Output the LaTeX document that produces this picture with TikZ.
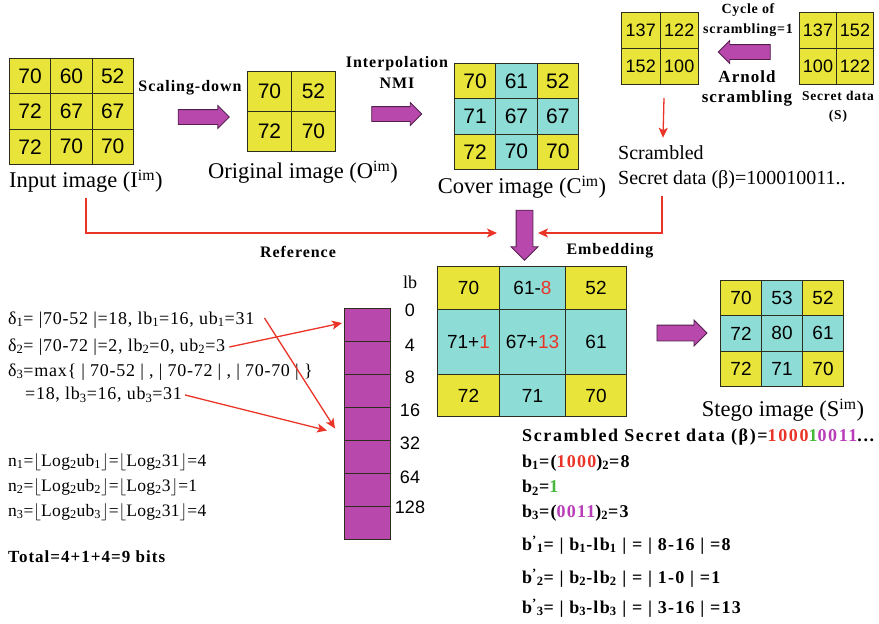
\documentclass[tikz,border=0pt]{standalone}
\usepackage{fontspec}
\setmainfont{Liberation Serif}
\newfontfamily\arialf{Liberation Sans}
\usetikzlibrary{shapes.arrows,arrows.meta}
\definecolor{cyel}{RGB}{232,228,58}
\definecolor{ccya}{RGB}{142,220,214}
\definecolor{cpur}{RGB}{184,72,172}
\definecolor{cred}{RGB}{234,52,40}
\definecolor{cgrn}{RGB}{70,185,60}
\definecolor{cmag}{RGB}{185,60,185}
\definecolor{cedge}{RGB}{45,45,30}
\newcommand\mkcell[8][20]{\node[cellbox, fill=#7, minimum width=#5pt, minimum height=#6pt, font=\arialf\fontsize{#1}{#1}\selectfont] (#2) at (#3,#4) {#8};}
\tikzset{
 cellbox/.style={draw=cedge, line width=1pt, inner sep=0pt, anchor=north west},
 blockarrow/.style={single arrow, fill=cpur, draw=cpur!45!black, line width=0.8pt, single arrow head extend=4pt, inner sep=0pt},
 redarrow/.style={draw=cred, line width=1.3pt, -{Stealth[length=10pt,width=9pt,inset=2.5pt]}},
 caption/.style={font=\fontsize{22.5}{24}\selectfont, inner sep=0pt},
 boldlbl/.style={font=\bfseries\fontsize{16}{21}\selectfont\addfontfeature{LetterSpace=6}, inner sep=0pt, align=center},
 eqn/.style={font=\fontsize{18}{18}\selectfont\addfontfeature{LetterSpace=4}, inner sep=0pt, anchor=west},
 beqn/.style={font=\bfseries\fontsize{18}{18}\selectfont\addfontfeature{LetterSpace=7}, inner sep=0pt, anchor=west},
 lblnum/.style={font=\arialf\fontsize{18}{18}\selectfont, inner sep=0pt},
}
\begin{document}
\begin{tikzpicture}[x=1pt,y=-1pt]
\useasboundingbox (0,0) rectangle (879,624);
\fill[white] (0,0) rectangle (879,624);
% Input image grid
\mkcell[21]{i11}{9}{58}{41.3}{35.3}{cyel}{70}
\mkcell[21]{i12}{50.3}{58}{41.3}{35.3}{cyel}{60}
\mkcell[21]{i13}{91.6}{58}{41.3}{35.3}{cyel}{52}
\mkcell[21]{i21}{9}{93.3}{41.3}{35.3}{cyel}{72}
\mkcell[21]{i22}{50.3}{93.3}{41.3}{35.3}{cyel}{67}
\mkcell[21]{i23}{91.6}{93.3}{41.3}{35.3}{cyel}{67}
\mkcell[21]{i31}{9}{128.6}{41.3}{35.3}{cyel}{72}
\mkcell[21]{i32}{50.3}{128.6}{41.3}{35.3}{cyel}{70}
\mkcell[21]{i33}{91.6}{128.6}{41.3}{35.3}{cyel}{70}
\node[caption, anchor=west] (incap) at (9,181) {Input image (I\textsuperscript{im})};
% Original image grid
\mkcell[21]{o11}{247}{71}{44}{40}{cyel}{70}
\mkcell[21]{o12}{291}{71}{44}{40}{cyel}{52}
\mkcell[21]{o21}{247}{111}{44}{40}{cyel}{72}
\mkcell[21]{o22}{291}{111}{44}{40}{cyel}{70}
\node[caption] (origcap) at (303,172) {Original image (O\textsuperscript{im})};
% Cover image grid
\mkcell[21]{c11}{454}{63}{41.3}{35.3}{cyel}{70}
\mkcell[21]{c12}{495.3}{63}{41.3}{35.3}{ccya}{61}
\mkcell[21]{c13}{536.6}{63}{41.3}{35.3}{cyel}{52}
\mkcell[21]{c21}{454}{98.3}{41.3}{35.3}{ccya}{71}
\mkcell[21]{c22}{495.3}{98.3}{41.3}{35.3}{ccya}{67}
\mkcell[21]{c23}{536.6}{98.3}{41.3}{35.3}{ccya}{67}
\mkcell[21]{c31}{454}{133.6}{41.3}{35.3}{cyel}{72}
\mkcell[21]{c32}{495.3}{133.6}{41.3}{35.3}{ccya}{70}
\mkcell[21]{c33}{536.6}{133.6}{41.3}{35.3}{cyel}{70}
\node[caption] (covcap) at (522,187) {Cover image (C\textsuperscript{im})};
% Scrambled grid
\mkcell[18]{s11}{621}{12}{38.5}{36}{cyel}{137}
\mkcell[18]{s12}{659.5}{12}{38.5}{36}{cyel}{122}
\mkcell[18]{s21}{621}{48}{38.5}{36}{cyel}{152}
\mkcell[18]{s22}{659.5}{48}{38.5}{36}{cyel}{100}
% Secret grid
\mkcell[18]{t11}{799}{12}{37}{36}{cyel}{137}
\mkcell[18]{t12}{836}{12}{37}{36}{cyel}{152}
\mkcell[18]{t21}{799}{48}{37}{36}{cyel}{100}
\mkcell[18]{t22}{836}{48}{37}{36}{cyel}{122}
% Embedding grid
\mkcell[19]{e11}{437}{266}{62}{43}{cyel}{70}
\mkcell[19]{e12}{499}{266}{66}{43}{ccya}{61-\textcolor{cred}{8}}
\mkcell[19]{e13}{565}{266}{61}{43}{cyel}{52}
\mkcell[19]{e21}{437}{309}{62}{65}{ccya}{71+\textcolor{cred}{1}}
\mkcell[19]{e22}{499}{309}{66}{65}{ccya}{67+\textcolor{cred}{13}}
\mkcell[19]{e23}{565}{309}{61}{65}{ccya}{61}
\mkcell[19]{e31}{437}{374}{62}{42}{cyel}{72}
\mkcell[19]{e32}{499}{374}{66}{42}{ccya}{71}
\mkcell[19]{e33}{565}{374}{61}{42}{cyel}{70}
% Stego grid
\mkcell[19]{g11}{720}{280}{41}{35.3}{cyel}{70}
\mkcell[19]{g12}{761}{280}{41}{35.3}{ccya}{53}
\mkcell[19]{g13}{802}{280}{41}{35.3}{cyel}{52}
\mkcell[19]{g21}{720}{315.3}{41}{35.3}{ccya}{72}
\mkcell[19]{g22}{761}{315.3}{41}{35.3}{ccya}{80}
\mkcell[19]{g23}{802}{315.3}{41}{35.3}{ccya}{61}
\mkcell[19]{g31}{720}{350.6}{41}{35.3}{cyel}{72}
\mkcell[19]{g32}{761}{350.6}{41}{35.3}{ccya}{71}
\mkcell[19]{g33}{802}{350.6}{41}{35.3}{cyel}{70}
\node[caption] (stegocap) at (783,410) {Stego image (S\textsuperscript{im})};
% lb column
\foreach \k in {0,...,6} {
  \node[cellbox, fill=cpur, minimum width=46pt, minimum height=33pt] (lb\k) at (344,{308+33*\k}) {};
}
\node[lblnum] (lbhead) at (410,282) {\fontspec{Liberation Serif}lb};
\node[lblnum] (lbl0) at (410,310) {0};
\node[lblnum] (lbl1) at (410,345) {4};
\node[lblnum] (lbl2) at (410,377) {8};
\node[lblnum] (lbl3) at (410,410) {16};
\node[lblnum] (lbl4) at (410,443) {32};
\node[lblnum] (lbl5) at (410,477) {64};
\node[lblnum] (lbl6) at (410,507) {128};
% Block arrows
\node[blockarrow, minimum height=51pt] (a1) at (200,117) {\rule{0pt}{14pt}};
\node[blockarrow, minimum height=50pt] (a2) at (393,114) {\rule{0pt}{14pt}};
\node[blockarrow, minimum height=52pt, rotate=180] (a3) at (748,52) {\rule{0pt}{14pt}};
\node[blockarrow, minimum height=50pt, single arrow head extend=5pt, rotate=-90] (a4) at (524.5,231) {\rule{0pt}{16pt}};
\node[blockarrow, minimum height=50pt, single arrow head extend=5pt] (a5) at (678,333) {\rule{0pt}{15pt}};
% Bold labels
\node[boldlbl] (lscale) at (190,88) {Scaling-down};
\node[boldlbl] (linterp) at (397,72) {Interpolation\\NMI};
\node[boldlbl, font=\bfseries\fontsize{14}{20}\selectfont\addfontfeature{LetterSpace=5}] (lcycle) at (748,20) {Cycle of\\scrambling=1};
\node[boldlbl, font=\bfseries\fontsize{17}{20}\selectfont\addfontfeature{LetterSpace=6}] (larnold) at (747,88) {Arnold\\scrambling};
\node[boldlbl, font=\bfseries\fontsize{13.5}{19}\selectfont\addfontfeature{LetterSpace=6}] (lsecret) at (838,107) {Secret data\\(S)};
\node[boldlbl] (lref) at (298,252) {Reference};
\node[boldlbl] (lemb) at (610,251) {Embedding};
% Scrambled secret data text
\node[inner sep=0pt, anchor=west, font=\fontsize{20}{20}\selectfont] (scr1) at (618,153) {Scrambled};
\node[inner sep=0pt, anchor=west, font=\fontsize{20}{20}\selectfont] (scr2) at (618,180) {Secret data (β)=100010011..};
% Left equations
\node[eqn] (d1) at (8,320) {δ\textsubscript{1}= |70-52 |=18, lb\textsubscript{1}=16, ub\textsubscript{1}=31};
\node[eqn] (d2) at (8,347) {δ\textsubscript{2}= |70-72 |=2, lb\textsubscript{2}=0, ub\textsubscript{2}=3};
\node[eqn] (d3) at (8,372) {δ\textsubscript{3}=max\{ | 70-52 | , | 70-72 | , | 70-70 | \}};
\node[eqn] (d3b) at (25,395) {=18, lb\textsubscript{3}=16, ub\textsubscript{3}=31};
\node[eqn, font=\fontsize{17.5}{18}\selectfont\addfontfeature{LetterSpace=2}] (n1) at (8,462) {n\textsubscript{1}=$\lfloor$Log\textsubscript{2}ub\textsubscript{1}$\rfloor$=$\lfloor$Log\textsubscript{2}31$\rfloor$=4};
\node[eqn, font=\fontsize{17.5}{18}\selectfont\addfontfeature{LetterSpace=2}] (n2) at (8,487) {n\textsubscript{2}=$\lfloor$Log\textsubscript{2}ub\textsubscript{2}$\rfloor$=$\lfloor$Log\textsubscript{2}3$\rfloor$=1};
\node[eqn, font=\fontsize{17.5}{18}\selectfont\addfontfeature{LetterSpace=2}] (n3) at (8,512) {n\textsubscript{3}=$\lfloor$Log\textsubscript{2}ub\textsubscript{3}$\rfloor$=$\lfloor$Log\textsubscript{2}31$\rfloor$=4};
\node[eqn, font=\bfseries\fontsize{17}{18}\selectfont\addfontfeature{LetterSpace=6}] (tot) at (8,557) {Total=4+1+4=9 bits};
% Right equations
\node[beqn, font=\bfseries\fontsize{18}{18}\selectfont\addfontfeature{LetterSpace=9}] (r0) at (522,437) {Scrambled Secret data (β)=\textcolor{cred}{1000}\textcolor{cgrn}{1}\textcolor{cmag}{0011}...};
\node[beqn] (r1) at (522,463) {b\textsubscript{1}=(\textcolor{cred}{1000})\textsubscript{2}=8};
\node[beqn] (r2) at (522,488) {b\textsubscript{2}=\textcolor{cgrn}{1}};
\node[beqn] (r3) at (522,513) {b\textsubscript{3}=(\textcolor{cmag}{0011})\textsubscript{2}=3};
\node[beqn] (r4) at (522,545) {b\textsuperscript{'}\textsubscript{1}= | b\textsubscript{1}-lb\textsubscript{1} | = | 8-16 | =8};
\node[beqn] (r5) at (522,578) {b\textsuperscript{'}\textsubscript{2}= | b\textsubscript{2}-lb\textsubscript{2} | = | 1-0 | =1};
\node[beqn] (r6) at (522,608) {b\textsuperscript{'}\textsubscript{3}= | b\textsubscript{3}-lb\textsubscript{3} | = | 3-16 | =13};
% Red connectors
\coordinate (refend) at (497,233);
\coordinate (embend) at (538,233);
\draw[redarrow] ([yshift=-5pt]incap.south) |- (refend);
\draw[redarrow] ([xshift=44pt,yshift=-7pt]scr2.south west) |- (embend);
\draw[redarrow] ([xshift=3.5pt,yshift=-13pt]s21.south east) -- ([xshift=45pt,yshift=8pt]scr1.north west);
\draw[redarrow] ([xshift=4pt]d2.east) -- ([xshift=-2pt,yshift=2pt]lb0.west);
\draw[redarrow] ([xshift=10pt,yshift=2pt]d1.east) -- ([xshift=-9pt,yshift=-4.5pt]lb3.west);
\draw[redarrow] ([xshift=3pt]d3b.east) -- ([xshift=-17pt,yshift=-6.5pt]lb3.west);
\end{tikzpicture}
\end{document}
